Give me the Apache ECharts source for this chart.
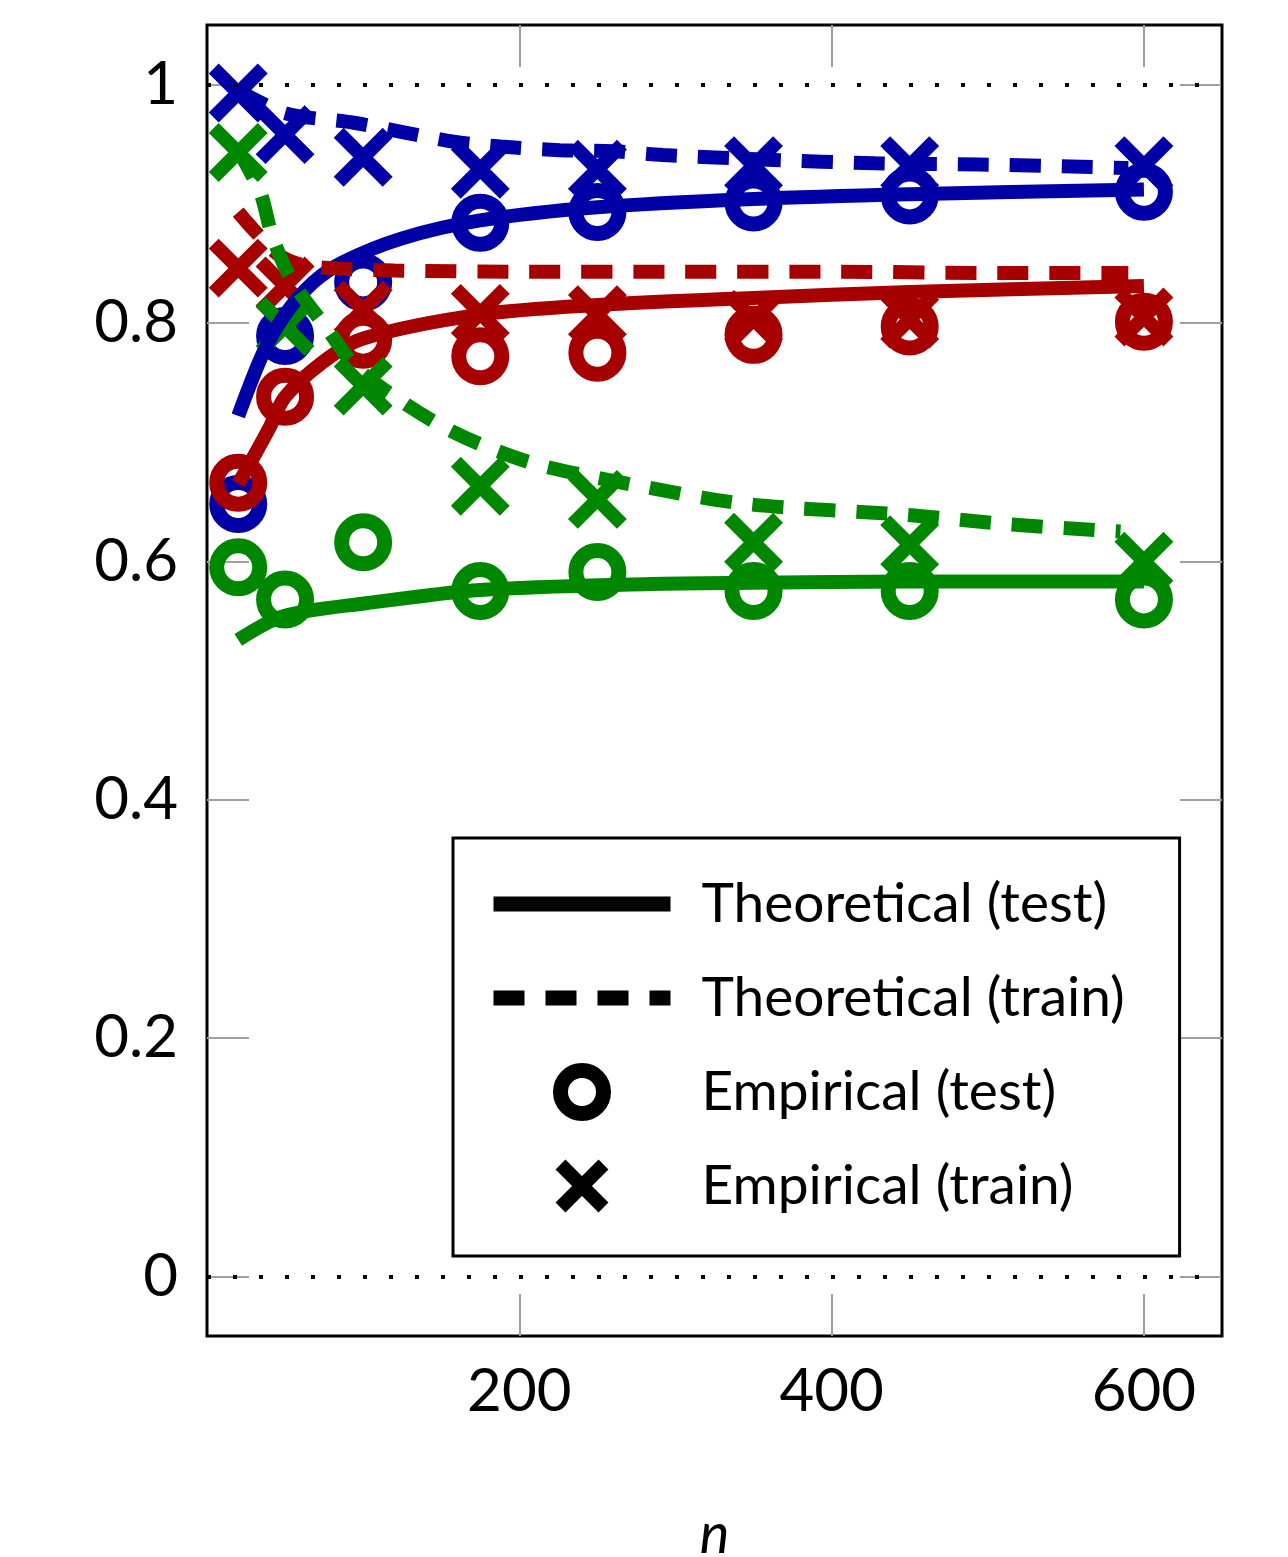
<!DOCTYPE html>
<html>
<head>
<meta charset="utf-8">
<script src="https://cdn.jsdelivr.net/npm/echarts@6/dist/echarts.min.js"></script>
<style>
	html, body { margin: 0; padding: 0; background: #fff; }
	#chart { width: 1288px; height: 1557px; }
</style>
</head>
<body>
<div id="chart"></div>
<script>
	// sample sizes of the empirical runs
	var nEmp = [20, 50, 100, 175, 250, 350, 450, 600];

	// empirical accuracies (markers)
	var blueTestEmp  = [0.648, 0.789, 0.834, 0.884, 0.893, 0.901, 0.907, 0.910];
	var blueTrainEmp = [0.993, 0.958, 0.939, 0.929, 0.929, 0.932, 0.932, 0.932];
	var redTestEmp   = [0.666, 0.738, 0.786, 0.772, 0.775, 0.790, 0.797, 0.801];
	var redTrainEmp  = [0.846, 0.831, 0.811, 0.808, 0.807, 0.803, 0.803, 0.805];
	var greenTestEmp  = [0.595, 0.568, 0.616, 0.575, 0.591, 0.575, 0.575, 0.568];
	var greenTrainEmp = [0.943, 0.797, 0.747, 0.663, 0.652, 0.616, 0.614, 0.600];

	// theoretical curves
	var nBlueTest = [20, 36, 50, 68, 87, 125, 175, 250, 350, 450, 600];
	var blueTest  = [0.722, 0.775, 0.807, 0.834, 0.851, 0.871, 0.886, 0.897, 0.904, 0.908, 0.912];
	var nBlueTrain = [20, 50, 94, 126, 158, 188, 226, 260, 292, 359, 428, 494, 560, 590];
	var blueTrain  = [0.995, 0.976, 0.968, 0.960, 0.952, 0.948, 0.945, 0.944, 0.941, 0.937, 0.934, 0.933, 0.931, 0.930];

	var nRedTest = [20, 30, 40, 50, 75, 100, 175, 250, 350, 450, 600];
	var redTest  = [0.665, 0.688, 0.712, 0.738, 0.768, 0.787, 0.807, 0.815, 0.821, 0.826, 0.831];
	var nRedTrain = [20, 30, 45, 60, 80, 120, 200, 300, 400, 500, 590];
	var redTrain  = [0.893, 0.878, 0.858, 0.849, 0.846, 0.844, 0.843, 0.843, 0.843, 0.842, 0.842];

	var nGreenTest = [20, 49, 103, 175, 284, 350, 450, 600];
	var greenTest  = [0.534, 0.554, 0.565, 0.576, 0.581, 0.582, 0.583, 0.583];
	var nGreenTrain = [20, 34, 42, 55, 77, 96, 126, 154, 183, 215, 278, 346, 448, 514, 585];
	var greenTrain  = [0.945, 0.910, 0.872, 0.834, 0.795, 0.762, 0.733, 0.711, 0.694, 0.680, 0.663, 0.648, 0.639, 0.631, 0.625];

	// tick positions and labels
	var xTicks = [200, 400, 600];
	var yTicks = [0, 0.2, 0.4, 0.6, 0.8, 1];

	var blue = '#0000a6', red = '#a60000', green = '#008700';
	var xPath = 'path://M0,0L10,10M0,10L10,0';
	var dash = [31, 21];

	function zip(xs, ys) {
		return xs.map(function (x, i) { return [x, ys[i]]; });
	}

	function curve(name, color, xs, ys, dashed) {
		return {
			name: name, type: 'line', data: zip(xs, ys),
			symbol: 'none', smooth: 0.3, silent: true,
			lineStyle: { color: color, width: 14, type: dashed ? dash : 'solid', cap: 'butt' }
		};
	}

	function marks(name, color, ys, cross) {
		return {
			name: name, type: 'scatter', data: zip(nEmp, ys), silent: true,
			symbol: cross ? xPath : 'circle',
			symbolSize: cross ? 49 : 43,
			itemStyle: { color: 'transparent', borderColor: color, borderWidth: cross ? 14 : 15, opacity: 1 }
		};
	}

	var series = [
		// dotted reference lines at 0 and 1
		{
			name: 'ref', type: 'line', data: [], silent: true, z: 1,
			markLine: {
				silent: true, symbol: 'none', label: { show: false },
				lineStyle: { color: '#000', type: [4, 22], width: 4, cap: 'butt' },
				data: [{ yAxis: 0 }, { yAxis: 1 }]
			}
		},
		// black dummies, for the legend only
		{ name: 'Theoretical (test)', type: 'line', data: [], symbol: 'none', lineStyle: { color: '#000', width: 15 } },
		{ name: 'Theoretical (train)', type: 'line', data: [], symbol: 'none', lineStyle: { color: '#000', width: 15, type: dash } },
		{ name: 'Empirical (test)', type: 'scatter', data: [], symbol: 'circle', itemStyle: { color: 'transparent', borderColor: '#000', borderWidth: 15 } },
		{ name: 'Empirical (train)', type: 'scatter', data: [], symbol: xPath, itemStyle: { color: 'transparent', borderColor: '#000', borderWidth: 14 } },

		curve('b1', blue, nBlueTest, blueTest, false),
		curve('b2', blue, nBlueTrain, blueTrain, true),
		marks('b3', blue, blueTestEmp, false),
		marks('b4', blue, blueTrainEmp, true),

		curve('r1', red, nRedTest, redTest, false),
		curve('r2', red, nRedTrain, redTrain, true),
		marks('r3', red, redTestEmp, false),
		marks('r4', red, redTrainEmp, true),

		curve('g1', green, nGreenTest, greenTest, false),
		curve('g2', green, nGreenTrain, greenTrain, true),
		marks('g3', green, greenTestEmp, false),
		marks('g4', green, greenTrainEmp, true)
	];

	function ticks(values) {
		return { show: true, inside: true, length: 42, customValues: values, lineStyle: { color: '#a0a0a0', width: 2 } };
	}

	var noLine = { show: false, onZero: false };
	var hiddenItem = { color: 'transparent', borderWidth: 0, opacity: 0 };
	var blackRing = { color: 'transparent', borderColor: '#000', borderWidth: 15, opacity: 1 };
	var blackCross = { color: 'transparent', borderColor: '#000', borderWidth: 14, opacity: 1 };

	var option = {
		animation: false,
		textStyle: { fontFamily: 'Lato' },
		grid: {
			left: 207, right: 66, top: 25, bottom: 221,
			outerBoundsMode: 'none', containLabel: false,
			show: true, borderColor: '#000', borderWidth: 3, backgroundColor: 'transparent'
		},
		legend: {
			orient: 'vertical', left: 453, top: 838,
			padding: [36, 55, 40, 33],
			itemWidth: 177, itemHeight: 43, itemGap: 34,
			backgroundColor: '#fff', borderColor: '#000', borderWidth: 3,
			selectedMode: false,
			lineStyle: { width: 15, cap: 'butt' },
			textStyle: { fontFamily: 'Lato', fontSize: 55, color: '#000', lineHeight: 60, padding: [0, 0, 0, 26] },
			data: [
				{ name: 'Theoretical (test)', itemStyle: hiddenItem },
				{ name: 'Theoretical (train)', itemStyle: hiddenItem },
				{ name: 'Empirical (test)', icon: 'circle', itemStyle: blackRing },
				{ name: 'Empirical (train)', icon: xPath, itemStyle: blackCross }
			]
		},
		xAxis: [
			{
				type: 'value', position: 'bottom', min: 0, max: 650,
				name: 'n', nameLocation: 'middle', nameGap: 171,
				nameTextStyle: { fontFamily: 'Lato', fontSize: 56, fontStyle: 'italic', color: '#000' },
				axisLine: noLine, splitLine: { show: false }, axisTick: ticks(xTicks),
				axisLabel: { fontFamily: 'Lato', fontSize: 60, color: '#000', margin: 26, customValues: xTicks }
			},
			{
				type: 'value', position: 'top', min: 0, max: 650,
				axisLine: noLine, splitLine: { show: false }, axisTick: ticks(xTicks),
				axisLabel: { show: false }
			}
		],
		yAxis: [
			{
				type: 'value', position: 'left', min: -0.05, max: 1.05,
				axisLine: noLine, splitLine: { show: false }, axisTick: ticks(yTicks),
				axisLabel: { fontFamily: 'Lato', fontSize: 60, color: '#000', margin: 29, customValues: yTicks }
			},
			{
				type: 'value', position: 'right', min: -0.05, max: 1.05,
				axisLine: noLine, splitLine: { show: false }, axisTick: ticks(yTicks),
				axisLabel: { show: false }
			}
		],
		series: series
	};

	var myChart = echarts.init(document.getElementById('chart'));
	myChart.setOption(option);
</script>
</body>
</html>
